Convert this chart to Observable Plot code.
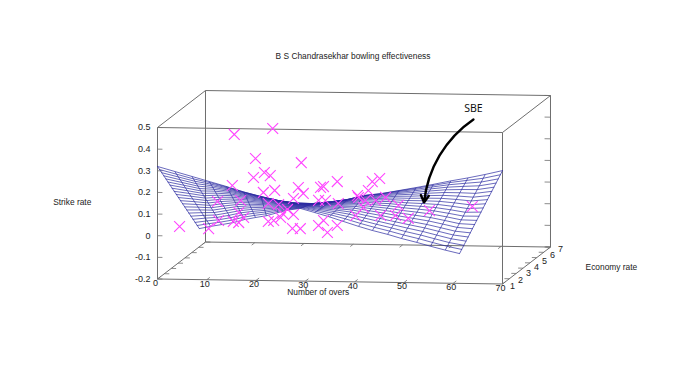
<!DOCTYPE html>
<html>
<head>
<meta charset="utf-8">
<script src="https://cdn.jsdelivr.net/npm/d3@7"></script>
<script src="https://cdn.jsdelivr.net/npm/@observablehq/plot@0.6"></script>
<style>
html,body{margin:0;padding:0;background:#fff;}
#title{height:12px;padding-top:50px;padding-left:30px;width:646px;text-align:center;font:8.4px/12px "Liberation Sans",Arial,sans-serif;color:#222;}
svg{display:block;}
</style>
</head>
<body>
<div id="title">B S Chandrasekhar bowling effectiveness</div>
<div id="chart"></div>
<script>
const overTicks = [0,10,20,30,40,50,60,70];
const strikeTicks = [-0.2,-0.1,0,0.1,0.2,0.3,0.4,0.5];
const economyTicks = [1,2,3,4,5,6,7];

// Observations (number of overs, strike rate); economy is not separable in the picture
const pointOvers = [12.1,19.9,16.4,25.7,16.0,18.2,19.4,11.7,33.0,18.0,20.3,25.1,29.6,30.2,26.1,24.1,29.2,30.6,13.4,8.7,1.0,19.0,19.0,20.1,11.9,13.0,8.9,6.9,14.0,13.0,23.9,25.5,24.1,22.9,21.5,30.2,31.0,29.2,33.0,33.2,37.1,38.7,41.6,40.1,39.3,37.3,40.8,42.8,45.4,44.8,41.8,47.4,51.7,60.4,38.3,36.7,21.9,21.1];
const pointStrike = [.411,.441,.301,.285,.213,.237,.223,.175,.200,.145,.155,.170,.172,.176,.143,.119,.112,.112,.106,.100,-.018,.094,.011,.016,.009,.004,.012,-.026,.028,.050,-.020,-.020,.045,.068,.030,.019,-.036,-.004,-.003,.099,.137,.115,.217,.202,.161,.128,.115,.130,.094,.047,.046,.035,.072,.094,.082,.044,.049,.090];
const pointEconomy = 2.5;

// Fitted surface: near edge (economy 0) and far edge (economy 6.1), column by column
const edgeNearOvers = [0,3.5,7,10.5,14,17.5,21,24.5,28,31.5,35,38.5,42,45.5,49,52.5,56,59.5,63,66.5,70];
const edgeNearStrike = [.320,.298,.276,.254,.232,.208,.188,.171,.160,.159,.168,.180,.200,.210,.225,.240,.256,.273,.288,.305,.324];
const edgeFarOvers = [0,2.3,4.5,6.9,9.2,11.4,13.6,15.9,18.1,20.5,23.4,26.4,29.2,32.3,35.1,38.2,41.0,44.1,46.9,49.9,52.8];
const edgeFarStrike = [-.116,-.105,-.096,-.086,-.071,-.061,-.052,-.037,-.024,-.016,-.034,-.053,-.073,-.095,-.113,-.130,-.148,-.165,-.182,-.199,-.214];
// How tightly the rows of each column crowd toward the near edge (1 = evenly spaced)
const rowCrowding = [1,1,1,1.2,1.4,1.7,2,2.2,2.2,2.2,2.2,2.2,2,1.8,1.6,1.4,1.3,1.2,1.1,1,1];
const edgeNearEconomy = 0, edgeFarEconomy = 6.1, meshRows = 20;

// Oblique gnuplot view: economy and overs shear the plane of overs × strike rate
const px = (o, e) => o + e * 1.391;
const py = (o, e, z) => z + e * 0.0244 - o * 0.00033;
const P = (o, e, z) => ({x: px(o, e), y: py(o, e, z)});

const oMax = 70, eMax = 7, zMin = -0.2, zMax = 0.5;
const corners = [
  [[0,0,zMin],[oMax,0,zMin]], [[0,0,zMax],[oMax,0,zMax]],
  [[0,eMax,zMin],[oMax,eMax,zMin]], [[0,eMax,zMax],[oMax,eMax,zMax]],
  [[0,0,zMin],[0,eMax,zMin]], [[oMax,0,zMin],[oMax,eMax,zMin]],
  [[0,0,zMax],[0,eMax,zMax]], [[oMax,0,zMax],[oMax,eMax,zMax]],
  [[0,0,zMin],[0,0,zMax]], [[oMax,0,zMin],[oMax,0,zMax]],
  [[0,eMax,zMin],[0,eMax,zMax]], [[oMax,eMax,zMin],[oMax,eMax,zMax]]
];
const seg = (a, b) => { const p = P(...a), q = P(...b); return {x1:p.x, y1:p.y, x2:q.x, y2:q.y}; };
const frame = corners.map(([a,b]) => seg(a,b));
const ticks = [
  ...strikeTicks.map(z => seg([0,0,z],[1.0,0,z])),
  ...strikeTicks.map(z => seg([oMax,eMax,z],[oMax-1.2,eMax,z])),
  ...economyTicks.map(e => seg([0,e,zMin],[1.0,e,zMin])),
  ...economyTicks.map(e => seg([oMax,e,zMin],[oMax-1.0,e,zMin])),
  ...overTicks.map(o => seg([o,0,zMin],[o,0.45,zMin])),
  ...overTicks.map(o => seg([o,eMax,zMin],[o,eMax-0.45,zMin]))
];

const near = edgeNearOvers.map((o,i) => P(o, edgeNearEconomy, edgeNearStrike[i]));
const far = edgeFarOvers.map((o,i) => P(o, edgeFarEconomy, edgeFarStrike[i]));
const columns = near.map((n,i) => ({x1:n.x, y1:n.y, x2:far[i].x, y2:far[i].y}));
const rows = [];
for (let j = 0; j <= meshRows; j++) {
  near.forEach((n,i) => {
    const t = Math.pow(j / meshRows, rowCrowding[i]);
    rows.push({row:j, x:n.x+(far[i].x-n.x)*t, y:n.y+(far[i].y-n.y)*t});
  });
}
const points = pointOvers.map((o,i) => P(o, pointEconomy, pointStrike[i]));
const tickFont = {fontFamily:'"Liberation Sans",Arial,sans-serif', fontSize:9, fill:"#222"};
const labelFont = {fontFamily:'"Liberation Sans",Arial,sans-serif', fontSize:8.4, fill:"#222"};

const chart = Plot.plot({
  width: 676, height: 318,
  marginLeft: 157, marginRight: 174, marginTop: 65, marginBottom: 101.5,
  x: {domain:[0,70], axis:null},
  y: {domain:[-0.2,0.5], axis:null},
  style: {background:"transparent", overflow:"visible"},
  marks: [
    Plot.link(frame, {x1:"x1",y1:"y1",x2:"x2",y2:"y2",stroke:"#6e6e6e",strokeWidth:1}),
    Plot.link(ticks, {x1:"x1",y1:"y1",x2:"x2",y2:"y2",stroke:"#6e6e6e",strokeWidth:0.8}),
    Plot.line(rows, {x:"x",y:"y",z:"row",stroke:"#2a2aa0",strokeWidth:0.7,curve:"linear"}),
    Plot.link(columns, {x1:"x1",y1:"y1",x2:"x2",y2:"y2",stroke:"#2a2aa0",strokeWidth:0.7}),
    Plot.dot(points, {x:"x",y:"y",symbol:"times",r:5,stroke:"#ff44ff",fill:"none",strokeWidth:1.1}),
    Plot.axisY({ticks:strikeTicks, tickSize:0, tickPadding:7, tickFormat:d=>String(d), label:null, ...tickFont}),
    Plot.text(overTicks, {x:o=>px(o,0), y:o=>py(o,0,zMin), text:o=>String(o), dx:-2, dy:4, ...tickFont}),
    Plot.text(economyTicks, {x:e=>px(oMax,e*1.167), y:e=>py(oMax,e*1.167,zMin), text:e=>String(e), dx:2, dy:8, ...tickFont}),
    Plot.text(["Strike rate"], {x:[-17.3], y:[0.153], ...labelFont}),
    Plot.text(["Economy rate"], {x:[92.1], y:[-0.147], ...labelFont}),
    Plot.text(["Number of overs"], {x:[32.6], y:[-0.263], ...labelFont}),
    Plot.text(["SBE"], {x:[64.1], y:[0.588], fontFamily:'"Noto Sans",sans-serif', fontSize:10.5, fill:"#111"}),
    Plot.arrow([{x1:64.1,y1:0.537,x2:54.1,y2:0.154}], {x1:"x1",y1:"y1",x2:"x2",y2:"y2",bend:-25,stroke:"#000",strokeWidth:2.4,headLength:5})
  ]
});
document.getElementById("chart").appendChild(chart);
</script>
</body>
</html>
